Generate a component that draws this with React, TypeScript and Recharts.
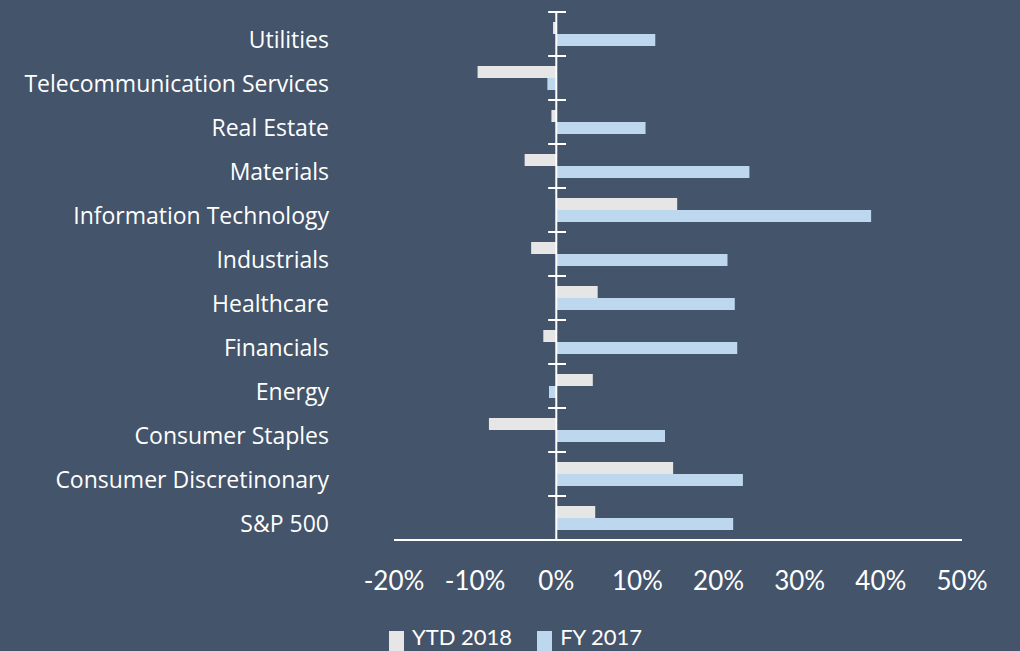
import React from 'react';
import { BarChart, Bar, XAxis, YAxis, ReferenceLine, Legend } from 'recharts';

const categories = [
  'Utilities',
  'Telecommunication Services',
  'Real Estate',
  'Materials',
  'Information Technology',
  'Industrials',
  'Healthcare',
  'Financials',
  'Energy',
  'Consumer Staples',
  'Consumer Discretinonary',
  'S&P 500',
];
const ytd2018 = [-0.4, -9.7, -0.6, -3.9, 14.9, -3.1, 5.1, -1.6, 4.5, -8.3, 14.4, 4.8];
const fy2017 = [12.2, -1.1, 11.0, 23.8, 38.8, 21.1, 22.0, 22.3, -0.9, 13.4, 23.0, 21.8];
const xTicks = [-20, -10, 0, 10, 20, 30, 40, 50];
const seriesNames = ['YTD 2018', 'FY 2017'];

const data = categories.map((name, i) => ({
  name,
  ytd: ytd2018[i],
  fy: fy2017[i],
}));

const FONT = 'Lato, "Open Sans", sans-serif';
const LABEL_FONT = '"Open Sans", Lato, sans-serif';
const BG = '#44546A';
const YTD_COLOR = '#E7E6E6';
const FY_COLOR = '#BDD7EE';

const CategoryTick = (props: any) => {
  const { x, y, payload } = props;
  return (
    <text
      x={x}
      y={y + 5}
      textAnchor="end"
      dominantBaseline="central"
      fill="#FFFFFF"
      fontSize={23}
      fontFamily={LABEL_FONT}
    >
      {payload.value}
    </text>
  );
};

const LegendContent = (props: any) => {
  const payload = [...(props.payload || [])].sort(
    (a: any, b: any) => seriesNames.indexOf(a.value) - seriesNames.indexOf(b.value)
  );
  return (
    <div style={{ display: 'flex', fontFamily: FONT, fontSize: 22, color: '#FFFFFF', lineHeight: '22px' }}>
      {payload.map((entry: any, i: number) => (
        <div key={i} style={{ display: 'flex', alignItems: 'flex-start', marginRight: i === 0 ? 25 : 0 }}>
          <span
            style={{
              display: 'inline-block',
              width: 15,
              height: 20,
              background: entry.color,
              marginTop: 5,
              marginRight: 8,
            }}
          />
          <span>{entry.value}</span>
        </div>
      ))}
    </div>
  );
};

export default function App() {
  return (
    <div
      style={{
        position: 'fixed',
        top: 0,
        left: 0,
        width: 1020,
        height: 651,
        background: BG,
        overflow: 'hidden',
      }}
    >
      <BarChart
        width={1020}
        height={651}
        data={data}
        layout="vertical"
        margin={{ top: 12, right: 58, bottom: 51, left: 0 }}
        barGap={0}
        barSize={12}
      >
        <XAxis
          type="number"
          domain={[-20, 50]}
          ticks={xTicks}
          allowDataOverflow
          tickFormatter={(v: number) => `${v}%`}
          axisLine={{ stroke: '#FFFFFF', strokeWidth: 2 }}
          tickLine={false}
          tickSize={0}
          tickMargin={32}
          height={60}
          tick={{ fill: '#FFFFFF', fontSize: 26, fontFamily: FONT }}
        />
        <YAxis
          type="category"
          dataKey="name"
          width={394}
          axisLine={false}
          tickLine={false}
          tickSize={0}
          tickMargin={65}
          interval={0}
          tick={<CategoryTick />}
        />
        <Bar dataKey="ytd" name={seriesNames[0]} fill={YTD_COLOR} isAnimationActive={false} />
        <Bar dataKey="fy" name={seriesNames[1]} fill={FY_COLOR} isAnimationActive={false} />
        <ReferenceLine x={0} stroke="#FFFFFF" strokeWidth={2} />
        {categories.map((c) => (
          <ReferenceLine
            key={c}
            position="start"
            segment={[
              { x: -1, y: c },
              { x: 1.2, y: c },
            ]}
            stroke="#FFFFFF"
            strokeWidth={2}
          />
        ))}
        <Legend
          layout="horizontal"
          verticalAlign="middle"
          align="center"
          wrapperStyle={{ top: 626, left: 389, width: 400, height: 22 }}
          content={<LegendContent />}
        />
      </BarChart>
    </div>
  );
}
